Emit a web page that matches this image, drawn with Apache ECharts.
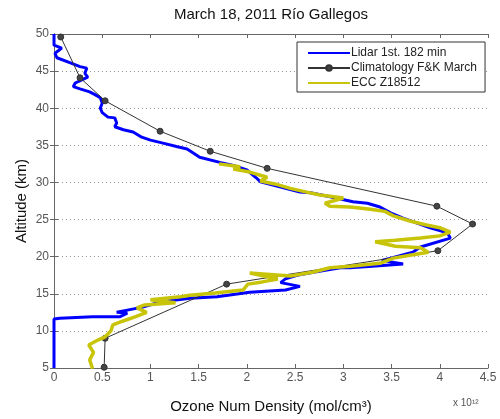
<!DOCTYPE html>
<html><head><meta charset="utf-8">
<script src="https://cdn.jsdelivr.net/npm/echarts@6/dist/echarts.min.js"></script>
<style>html,body{margin:0;padding:0;background:#fff}#c{width:500px;height:419px}</style>
</head><body><div id="c"></div>
<script>
const titleText = 'March 18, 2011 Río Gallegos';
const xTicks = [0, 0.5, 1, 1.5, 2, 2.5, 3, 3.5, 4, 4.5];
const yTicks = [5, 10, 15, 20, 25, 30, 35, 40, 45, 50];
const seriesNames = ['Lidar 1st. 182 min', 'Climatology F&K March', 'ECC Z18512'];

// Lidar profile (ozone 1e12 mol/cm3, altitude km)
const lidarX = [0,0,0.08,0.01,0.03,0.17,0.27,0.34,0.32,0.35,0.30,0.22,0.20,0.27,0.37,0.43,0.48,0.50,0.48,0.50,0.56,0.63,0.65,0.63,0.72,0.82,0.91,1.00,1.13,1.28,1.38,1.44,1.51,1.72,1.86,2.00,2.09,2.14,2.34,2.55,2.66,2.85,3.10,3.25,3.38,3.49,3.62,3.90,4.08,4.11,3.80,3.72,3.52,3.40,3.62,3.30,3.07,2.97,2.69,2.52,2.40,2.35,2.55,2.40,2.03,1.69,1.41,1.10,0.92,0.76,0.65,0.76,0.68,0.40,0.06,0,0];
const lidarAlt = [50,48.5,48.1,47.4,46.8,46.1,45.6,45.4,44.7,44.2,43.9,43.4,42.9,42.6,42.2,41.8,41.4,40.7,40.0,39.4,38.8,38.7,38.0,37.5,37.1,36.8,36.1,35.7,35.3,34.8,34.5,34.0,33.4,32.7,32.3,31.7,30.7,30.1,29.4,28.7,28.6,28.1,27.4,27.2,26.7,25.9,25.2,23.9,23.2,22.5,21.3,20.6,19.9,19.5,19.0,18.7,18.5,18.5,17.9,17.5,17.0,16.5,16.0,15.5,15.2,14.6,14.4,13.9,13.2,12.8,12.5,12.4,11.9,11.9,11.7,11.6,5];

// Climatology F&K March
const climX = [0.07,0.27,0.53,1.10,1.62,2.21,3.97,4.34,3.98,1.79,0.53,0.52];
const climAlt = [49.6,44.1,41.0,36.9,34.2,31.9,26.8,24.4,20.8,16.3,9.0,5.1];

// ECC sonde profile
const eccX = [1.71,1.93,1.86,2.03,2.21,2.14,2.29,2.45,2.62,2.76,3.00,2.81,2.86,3.07,3.28,3.43,3.52,3.69,3.85,4.00,4.11,4.00,3.80,3.54,3.33,3.54,3.80,3.88,3.69,3.52,3.38,3.07,2.86,2.68,2.45,2.03,2.32,2.16,2.01,1.96,1.67,1.41,1.31,1.00,1.26,0.94,0.86,0.96,0.84,0.71,0.61,0.59,0.53,0.46,0.36,0.41,0.37,0.40];
const eccAlt = [32.5,32.1,31.8,31.4,30.7,30.2,29.8,29.2,28.7,28.3,27.9,27.2,26.8,26.7,26.4,26.1,25.5,24.8,24.3,23.9,23.3,22.8,22.5,22.2,22.0,21.4,21.2,20.6,20.2,19.8,19.1,18.7,18.5,17.9,17.4,17.8,17.0,16.6,16.3,15.5,15.1,14.8,14.6,14.2,13.8,13.5,13.1,12.5,11.9,11.3,10.8,10.0,9.2,8.8,8.1,7.1,6.1,4.9];

const zip = (xs, ys) => xs.map((v, i) => [v, ys[i]]);
const FONT = '"Liberation Sans", Arial, sans-serif';

const chart = echarts.init(document.getElementById('c'), null, {renderer: 'canvas'});
const axisLine = {show: true, lineStyle: {color: '#666', width: 1}};
const tick = {show: true, inside: true, length: 4, lineStyle: {color: '#666'}};
chart.setOption({
  animation: false,
  backgroundColor: '#fff',
  grid: {left: 54, right: 12, top: 34, bottom: 51, containLabel: false},
  xAxis: [
    {type: 'value', min: 0, max: 4.5, interval: 0.5, position: 'bottom',
     axisLine, axisTick: tick, splitLine: {show: false},
     axisLabel: {color: '#555', fontSize: 12, fontFamily: FONT, margin: 4,
       formatter: v => String(+v.toFixed(1))}},
    {type: 'value', min: 0, max: 4.5, interval: 0.5, position: 'top',
     axisLine, axisTick: tick, axisLabel: {show: false}, splitLine: {show: false}}
  ],
  yAxis: [
    {type: 'value', min: 5, max: 50, interval: 5, position: 'left',
     axisLine, axisTick: tick,
     splitLine: {show: true, lineStyle: {color: '#999', type: [1, 3], width: 1}},
     axisLabel: {color: '#555', fontSize: 12, fontFamily: FONT, margin: 5}},
    {type: 'value', min: 5, max: 50, interval: 5, position: 'right',
     axisLine, axisTick: tick, axisLabel: {show: false}, splitLine: {show: false}}
  ],
  legend: {
    orient: 'vertical', left: 297, top: 42,
    backgroundColor: '#fff', borderColor: '#333', borderWidth: 1,
    padding: [5, 8, 3, 10], itemGap: 3, itemWidth: 42, itemHeight: 7,
    textStyle: {fontSize: 12, fontFamily: FONT, color: '#222', padding: [0, 0, 0, -4]},
    data: [
      {name: seriesNames[0], itemStyle: {opacity: 0}},
      {name: seriesNames[1]},
      {name: seriesNames[2], itemStyle: {opacity: 0}}
    ]
  },
  series: [
    {name: seriesNames[0], type: 'line', data: zip(lidarX, lidarAlt), symbol: 'none',
     lineStyle: {color: '#0000ff', width: 3}, itemStyle: {color: '#0000ff'}, z: 2},
    {name: seriesNames[1], type: 'line', data: zip(climX, climAlt), symbol: 'circle', symbolSize: 6,
     lineStyle: {color: '#333', width: 1}, itemStyle: {color: '#444', borderColor: '#333', borderWidth: 1}, z: 3},
    {name: seriesNames[2], type: 'line', data: zip(eccX, eccAlt), symbol: 'none',
     lineStyle: {color: '#c8c40a', width: 3.5}, itemStyle: {color: '#c8c40a'}, z: 4}
  ],
  graphic: [
    {type: 'text', x: 271, y: 15, style: {text: titleText, font: '15px ' + FONT, fill: '#111', align: 'center', verticalAlign: 'middle'}},
    {type: 'text', x: 22, y: 201, rotation: Math.PI / 2,
     style: {text: 'Altitude (km)', font: '15px ' + FONT, fill: '#111', align: 'center', verticalAlign: 'middle'}},
    {type: 'text', x: 271, y: 407, style: {text: 'Ozone Num Density (mol/cm³)', font: '15px ' + FONT, fill: '#111', align: 'center', verticalAlign: 'middle'}},
    {type: 'text', x: 453, y: 398, style: {text: 'x 10¹²', font: '10px ' + FONT, fill: '#555', align: 'left', verticalAlign: 'top'}}
  ]
});
</script></body></html>
